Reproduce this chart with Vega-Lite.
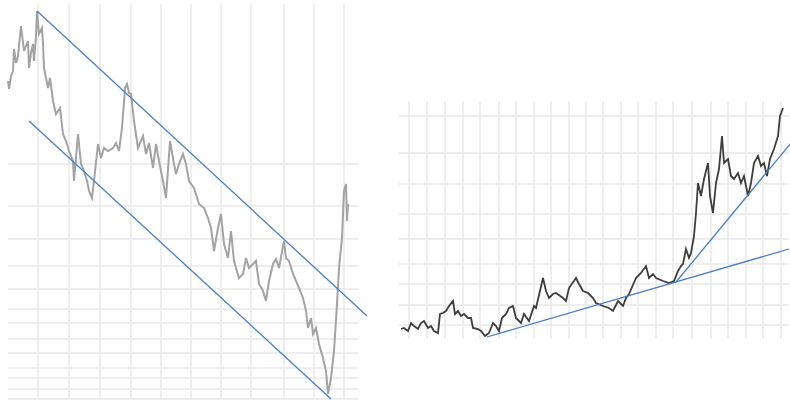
{
  "$schema": "https://vega.github.io/schema/vega-lite/v6.json",
  "padding": {"left": 4, "top": 3, "right": 0, "bottom": 0},
  "background": "white",
  "spacing": 40,
  "bounds": "flush",
  "config": {
    "view": {"stroke": null}
  },
  "datasets": {
    "leftGridX": [{"g":30},{"g":61},{"g":92},{"g":123},{"g":153},{"g":183},{"g":213},{"g":243},{"g":276},{"g":306},{"g":336}],
    "leftGridY": [{"g":237},{"g":195},{"g":162},{"g":135},{"g":112},{"g":92},{"g":78},{"g":62},{"g":48},{"g":33},{"g":23},{"g":12},{"g":2}],
    "rightGridX": [{"g":10},{"g":28},{"g":46},{"g":64},{"g":81},{"g":100},{"g":117},{"g":135},{"g":152},{"g":170},{"g":187},{"g":204},{"g":222},{"g":239},{"g":257},{"g":274},{"g":293},{"g":312},{"g":329},{"g":347},{"g":364},{"g":382}],
    "rightGridY": [{"g":223},{"g":186},{"g":155},{"g":125},{"g":100},{"g":75},{"g":55},{"g":34},{"g":14}],
    "leftPrice": [
      {"t":0,"v":320},{"t":1,"v":312},{"t":3,"v":325},{"t":5,"v":330},{"t":6,"v":352},{"t":8,"v":338},{"t":10,"v":345},{"t":13,"v":375},{"t":16,"v":350},{"t":18,"v":355},{"t":20,"v":360},{"t":21,"v":333},{"t":23,"v":348},{"t":25,"v":357},{"t":26,"v":340},{"t":28,"v":365},{"t":29,"v":390},{"t":31,"v":367},{"t":34,"v":373},{"t":35,"v":357},{"t":36,"v":333},{"t":40,"v":313},{"t":42,"v":323},{"t":45,"v":300},{"t":48,"v":287},{"t":52,"v":293},{"t":55,"v":267},{"t":58,"v":260},{"t":61,"v":250},{"t":65,"v":240},{"t":66,"v":220},{"t":70,"v":267},{"t":73,"v":237},{"t":76,"v":230},{"t":79,"v":220},{"t":81,"v":210},{"t":84,"v":203},{"t":86,"v":220},{"t":90,"v":257},{"t":93,"v":243},{"t":96,"v":253},{"t":100,"v":250},{"t":105,"v":253},{"t":108,"v":258},{"t":111,"v":250},{"t":114,"v":273},{"t":117,"v":313},{"t":119,"v":317},{"t":121,"v":308},{"t":123,"v":307},{"t":126,"v":280},{"t":130,"v":253},{"t":135,"v":265},{"t":138,"v":247},{"t":141,"v":258},{"t":145,"v":233},{"t":148,"v":257},{"t":151,"v":240},{"t":155,"v":220},{"t":158,"v":203},{"t":162,"v":260},{"t":166,"v":237},{"t":168,"v":227},{"t":171,"v":237},{"t":175,"v":247},{"t":178,"v":237},{"t":181,"v":220},{"t":186,"v":213},{"t":191,"v":197},{"t":196,"v":193},{"t":200,"v":183},{"t":203,"v":173},{"t":206,"v":150},{"t":210,"v":173},{"t":213,"v":187},{"t":216,"v":157},{"t":220,"v":143},{"t":223,"v":170},{"t":226,"v":140},{"t":231,"v":123},{"t":235,"v":127},{"t":238,"v":143},{"t":241,"v":133},{"t":245,"v":137},{"t":248,"v":140},{"t":251,"v":117},{"t":255,"v":110},{"t":258,"v":100},{"t":261,"v":120},{"t":265,"v":137},{"t":268,"v":142},{"t":271,"v":133},{"t":276,"v":160},{"t":278,"v":143},{"t":281,"v":140},{"t":285,"v":127},{"t":288,"v":120},{"t":291,"v":113},{"t":295,"v":103},{"t":298,"v":90},{"t":300,"v":73},{"t":303,"v":83},{"t":305,"v":67},{"t":308,"v":73},{"t":311,"v":57},{"t":315,"v":43},{"t":318,"v":30},{"t":320,"v":7},{"t":323,"v":23},{"t":326,"v":50},{"t":329,"v":97},{"t":331,"v":133},{"t":334,"v":163},{"t":336,"v":210},{"t":338,"v":217},{"t":339,"v":180},{"t":340,"v":197}
    ],
    "leftTrend": [
      {"line":"upper","t":29,"v":390},{"line":"upper","t":359,"v":85},
      {"line":"lower","t":21,"v":280},{"line":"lower","t":323,"v":2}
    ],
    "rightPrice": [
      {"t":2,"v":10},{"t":5,"v":11},{"t":9,"v":8},{"t":12,"v":16},{"t":15,"v":13},{"t":19,"v":10},{"t":22,"v":16},{"t":25,"v":18},{"t":29,"v":11},{"t":32,"v":13},{"t":35,"v":8},{"t":39,"v":6},{"t":41,"v":25},{"t":44,"v":26},{"t":47,"v":28},{"t":50,"v":33},{"t":54,"v":38},{"t":56,"v":25},{"t":59,"v":28},{"t":62,"v":23},{"t":65,"v":25},{"t":69,"v":21},{"t":72,"v":21},{"t":74,"v":11},{"t":79,"v":10},{"t":82,"v":8},{"t":86,"v":3},{"t":90,"v":6},{"t":94,"v":16},{"t":97,"v":13},{"t":100,"v":8},{"t":103,"v":21},{"t":107,"v":25},{"t":110,"v":31},{"t":114,"v":33},{"t":117,"v":21},{"t":122,"v":16},{"t":125,"v":25},{"t":130,"v":18},{"t":135,"v":33},{"t":137,"v":31},{"t":144,"v":61},{"t":147,"v":48},{"t":150,"v":41},{"t":154,"v":45},{"t":157,"v":46},{"t":164,"v":41},{"t":167,"v":38},{"t":170,"v":51},{"t":177,"v":61},{"t":180,"v":55},{"t":184,"v":48},{"t":189,"v":46},{"t":194,"v":41},{"t":197,"v":36},{"t":204,"v":33},{"t":210,"v":31},{"t":214,"v":28},{"t":219,"v":38},{"t":224,"v":33},{"t":227,"v":41},{"t":230,"v":45},{"t":237,"v":61},{"t":242,"v":66},{"t":247,"v":73},{"t":250,"v":61},{"t":254,"v":65},{"t":257,"v":61},{"t":264,"v":58},{"t":270,"v":56},{"t":275,"v":58},{"t":279,"v":68},{"t":282,"v":73},{"t":284,"v":75},{"t":287,"v":90},{"t":290,"v":81},{"t":292,"v":86},{"t":295,"v":103},{"t":297,"v":126},{"t":299,"v":156},{"t":302,"v":143},{"t":305,"v":160},{"t":309,"v":176},{"t":311,"v":143},{"t":314,"v":126},{"t":317,"v":156},{"t":320,"v":170},{"t":323,"v":203},{"t":325,"v":176},{"t":329,"v":180},{"t":332,"v":163},{"t":335,"v":160},{"t":339,"v":166},{"t":342,"v":156},{"t":345,"v":163},{"t":349,"v":143},{"t":352,"v":156},{"t":355,"v":176},{"t":359,"v":183},{"t":362,"v":173},{"t":365,"v":176},{"t":368,"v":163},{"t":371,"v":180},{"t":375,"v":190},{"t":379,"v":203},{"t":381,"v":223},{"t":384,"v":231}
    ],
    "rightTrend": [
      {"line":"long","t":88,"v":2},{"line":"long","t":390,"v":90},
      {"line":"steep","t":277,"v":57},{"line":"steep","t":392,"v":196}
    ]
  },
  "hconcat": [
    {
      "width": 351,
      "height": 397,
      "encoding": {
        "x": {"type": "quantitative", "scale": {"domain": [0, 351], "nice": false, "zero": false}, "axis": null},
        "y": {"type": "quantitative", "scale": {"domain": [0, 397], "nice": false, "zero": false}, "axis": null}
      },
      "layer": [
        {
          "data": {"name": "leftGridX"},
          "mark": {"type": "rule", "color": "#e8e8e8", "strokeWidth": 1.5},
          "encoding": {"x": {"field": "g", "type": "quantitative"}}
        },
        {
          "data": {"name": "leftGridY"},
          "mark": {"type": "rule", "color": "#e8e8e8", "strokeWidth": 1.5},
          "encoding": {"y": {"field": "g", "type": "quantitative"}}
        },
        {
          "data": {"name": "leftPrice"},
          "mark": {"type": "line", "color": "#a3a3a3", "strokeWidth": 2},
          "encoding": {
            "x": {"field": "t", "type": "quantitative"},
            "y": {"field": "v", "type": "quantitative"}
          }
        },
        {
          "data": {"name": "leftTrend"},
          "mark": {"type": "line", "color": "#4a7ebf", "strokeWidth": 1.3},
          "encoding": {
            "x": {"field": "t", "type": "quantitative"},
            "y": {"field": "v", "type": "quantitative"},
            "detail": {"field": "line"}
          }
        }
      ]
    },
    {
      "width": 390,
      "height": 335,
      "encoding": {
        "x": {"type": "quantitative", "scale": {"domain": [0, 390], "nice": false, "zero": false}, "axis": null},
        "y": {"type": "quantitative", "scale": {"domain": [0, 335], "nice": false, "zero": false}, "axis": null}
      },
      "layer": [
        {
          "data": {"name": "rightGridX"},
          "mark": {"type": "rule", "color": "#e8e8e8", "strokeWidth": 1.5},
          "encoding": {
            "x": {"field": "g", "type": "quantitative"},
            "y": {"datum": 0, "type": "quantitative"},
            "y2": {"datum": 238}
          }
        },
        {
          "data": {"name": "rightGridY"},
          "mark": {"type": "rule", "color": "#e8e8e8", "strokeWidth": 1.5},
          "encoding": {"y": {"field": "g", "type": "quantitative"}}
        },
        {
          "data": {"name": "rightPrice"},
          "mark": {"type": "line", "color": "#3d3d3d", "strokeWidth": 1.8},
          "encoding": {
            "x": {"field": "t", "type": "quantitative"},
            "y": {"field": "v", "type": "quantitative"}
          }
        },
        {
          "data": {"name": "rightTrend"},
          "mark": {"type": "line", "color": "#4a7ebf", "strokeWidth": 1.3},
          "encoding": {
            "x": {"field": "t", "type": "quantitative"},
            "y": {"field": "v", "type": "quantitative"},
            "detail": {"field": "line"}
          }
        }
      ]
    }
  ]
}
